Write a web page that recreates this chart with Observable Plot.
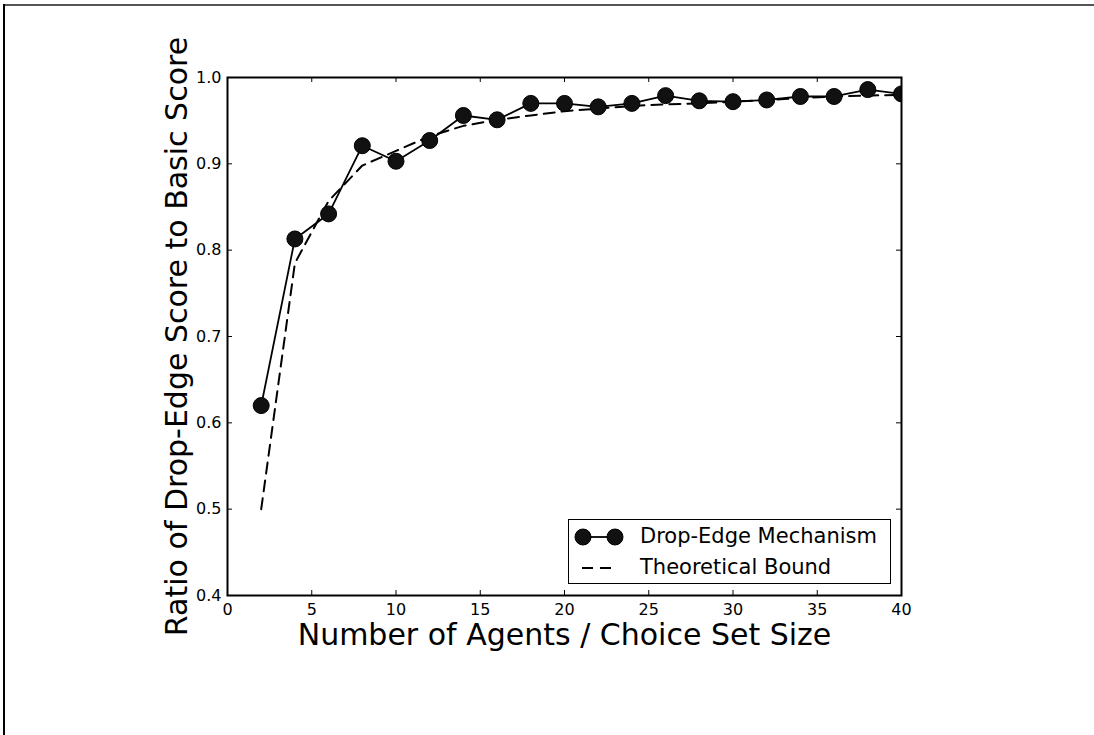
<!DOCTYPE html>
<html><head><meta charset="utf-8">
<script src="https://cdn.jsdelivr.net/npm/d3@7"></script>
<script src="https://cdn.jsdelivr.net/npm/@observablehq/plot@0.6"></script>
<style>
body{margin:0;background:#fff;font-family:"DejaVu Sans",sans-serif;}
#wrap{position:relative;width:1094px;height:735px;overflow:hidden;background:#fff;}
#wrap svg.chart{position:absolute;left:0;top:0;}
.edgeTop{position:absolute;left:3px;top:4px;width:1091px;height:2px;background:#555;}
.edgeLeft{position:absolute;left:3px;top:4px;width:2px;height:731px;background:#000;}
#legend{position:absolute;left:568px;top:519px;width:323px;height:65px;box-sizing:border-box;border:1.5px solid #000;background:#fff;}
#legend .lbl{position:absolute;left:71px;font-size:21px;line-height:21px;white-space:nowrap;color:#000;}
#legend svg{position:absolute;left:0;top:0;}
</style></head><body>
<div id="wrap"><div class="edgeTop"></div><div class="edgeLeft"></div></div>
<script>
const agents = [2,4,6,8,10,12,14,16,18,20,22,24,26,28,30,32,34,36,38,40];
const dropEdge = [0.620,0.813,0.842,0.921,0.903,0.927,0.956,0.951,0.970,0.970,0.966,0.970,0.979,0.973,0.972,0.974,0.978,0.978,0.986,0.981];
const bound = [0.500,0.785,0.857,0.898,0.915,0.932,0.944,0.951,0.956,0.961,0.964,0.967,0.969,0.970,0.972,0.974,0.976,0.978,0.979,0.980];
const xTicks = [0,5,10,15,20,25,30,35,40];
const yTicks = [0.4,0.5,0.6,0.7,0.8,0.9,1.0];
const seriesNames = ["Drop-Edge Mechanism","Theoretical Bound"];
const xLabel = "Number of Agents / Choice Set Size";
const yLabel = "Ratio of Drop-Edge Score to Basic Score";

const W = 1094, H = 735, mL = 227, mR = 193, mT = 77, mB = 140;
const innerW = W - mL - mR, innerH = H - mT - mB;
const dropData = agents.map((n, i) => ({n, v: dropEdge[i]}));
const boundData = agents.map((n, i) => ({n, v: bound[i]}));

const chart = Plot.plot({
  width: W, height: H,
  marginLeft: mL, marginRight: mR, marginTop: mT, marginBottom: mB,
  style: {fontFamily: "DejaVu Sans", background: "transparent", color: "#000"},
  x: {domain: [0, 40]},
  y: {domain: [0.4, 1.0]},
  marks: [
    Plot.line(boundData, {x: "n", y: "v", stroke: "#000", strokeWidth: 2, strokeDasharray: "11,7", clip: true}),
    Plot.line(dropData, {x: "n", y: "v", stroke: "#000", strokeWidth: 1.8, clip: true}),
    Plot.dot(dropData, {x: "n", y: "v", r: 8, fill: "#111", stroke: "#000", strokeWidth: 1, clip: true}),
    Plot.frame({stroke: "#000", strokeWidth: 2}),
    Plot.tickX(xTicks, {x: d => d, insetTop: innerH - 5, stroke: "#000"}),
    Plot.tickX(xTicks, {x: d => d, insetBottom: innerH - 5, stroke: "#000"}),
    Plot.tickY(yTicks, {y: d => d, insetRight: innerW - 5, stroke: "#000"}),
    Plot.tickY(yTicks, {y: d => d, insetLeft: innerW - 5, stroke: "#000"}),
    Plot.axisX(xTicks, {tickSize: 0, tickPadding: 8, fontSize: 16, label: null}),
    Plot.axisY(yTicks, {tickSize: 0, tickPadding: 6, fontSize: 16, tickFormat: d3.format(".1f"), label: null}),
    Plot.text([xLabel], {text: d => d, frameAnchor: "bottom", textAnchor: "middle", lineAnchor: "middle", dy: 40, fontSize: 30}),
    Plot.text([yLabel], {text: d => d, frameAnchor: "left", textAnchor: "middle", lineAnchor: "middle", dx: -50, rotate: -90, fontSize: 30})
  ]
});
chart.classList.add("chart");
const wrap = document.getElementById("wrap");
wrap.appendChild(chart);

// legend
const leg = document.createElement("div");
leg.id = "legend";
leg.innerHTML = `<svg width="323" height="65">
  <line x1="14" x2="46" y1="17" y2="17" stroke="#000" stroke-width="1.8"/>
  <circle cx="14" cy="17" r="8" fill="#111" stroke="#000"/>
  <circle cx="46" cy="17" r="8" fill="#111" stroke="#000"/>
  <line x1="13" x2="45" y1="48" y2="48" stroke="#000" stroke-width="2" stroke-dasharray="11,7"/>
</svg>
<div class="lbl" style="top:6px">${seriesNames[0]}</div>
<div class="lbl" style="top:37px">${seriesNames[1]}</div>`;
wrap.appendChild(leg);
</script>
</body></html>
